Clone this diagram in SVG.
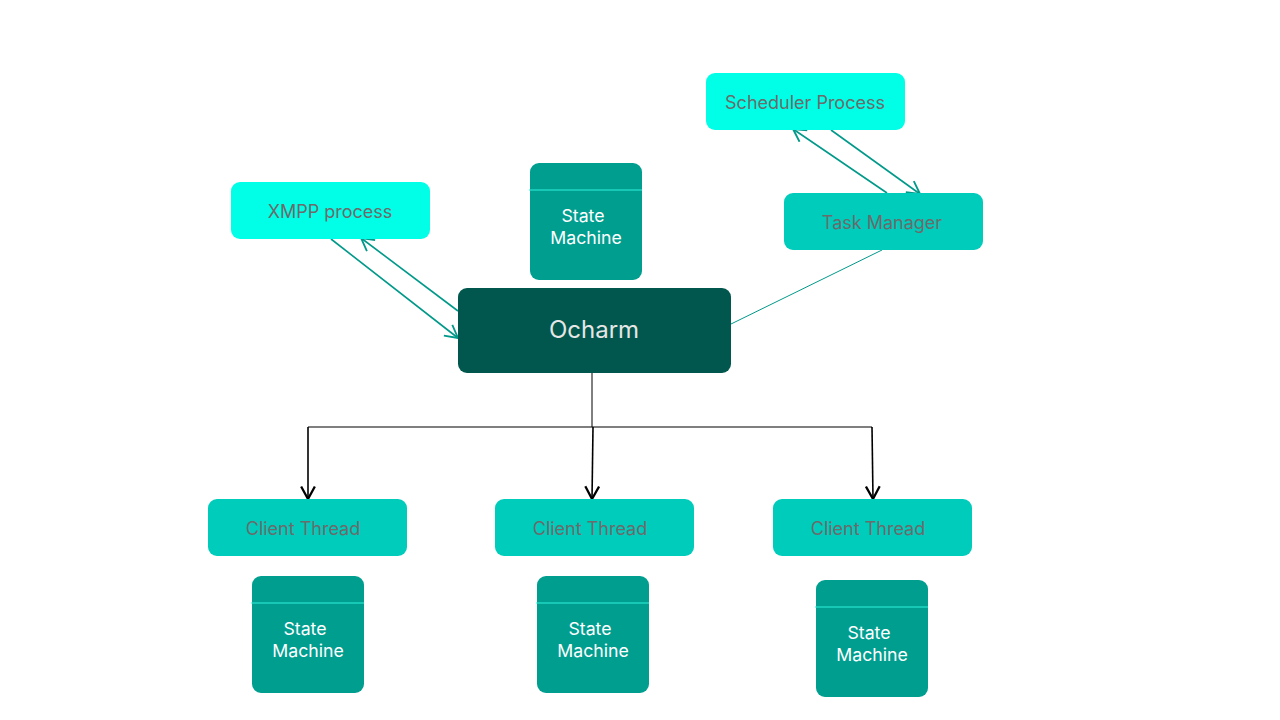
<svg xmlns="http://www.w3.org/2000/svg" width="1280" height="720" viewBox="0 0 1280 720">
<defs>
<style>
.proc{fill:#00FFE6}
.mid{fill:#00CCBB}
.sm{fill:#009E8F}
.smline{stroke:#2EF2DF;stroke-width:1}
.lbl{font-family:Inter,"Liberation Sans",sans-serif;font-size:18px;fill:#6B6B6B;text-anchor:middle}
.wlbl{font-family:Inter,"Liberation Sans",sans-serif;font-size:17.7px;fill:#FFFFFF;text-anchor:middle}
.teal{stroke:#00998A;stroke-width:1.6;fill:none}
.thin{stroke:#00998A;stroke-width:1;fill:none}
.blk{stroke:#000;stroke-width:1.6;fill:none}
</style>
<marker id="at" markerUnits="userSpaceOnUse" markerWidth="16" markerHeight="16" refX="12" refY="7" orient="auto" viewBox="0 0 14 14">
<path d="M1,1 L12,7 L1,13" fill="none" stroke="#00998A" stroke-width="1.6"/>
</marker>
<marker id="ab" markerUnits="userSpaceOnUse" markerWidth="16" markerHeight="16" refX="12" refY="7" orient="auto" viewBox="0 0 14 14">
<path d="M1,1 L12,7 L1,13" fill="none" stroke="#000" stroke-width="2"/>
</marker>
</defs>
<rect width="1280" height="720" fill="#FFFFFF"/>
<g id="connectors">
<line class="teal" x1="331" y1="239" x2="458" y2="338" marker-end="url(#at)"/>
<line class="teal" x1="458" y1="311" x2="361" y2="238" marker-end="url(#at)"/>
<line class="teal" x1="831" y1="130" x2="920" y2="194" marker-end="url(#at)"/>
<line class="teal" x1="887" y1="193" x2="793" y2="129" marker-end="url(#at)"/>
<line class="thin" x1="882" y1="250" x2="731" y2="324"/>
<line x1="592" y1="373" x2="592" y2="427" stroke="#000" stroke-width="1"/>
<line x1="308" y1="427" x2="872" y2="427" stroke="#000" stroke-width="1.2"/>
<line class="blk" x1="308" y1="427" x2="308" y2="499" marker-end="url(#ab)"/>
<line class="blk" x1="593" y1="427" x2="592" y2="499" marker-end="url(#ab)"/>
<line class="blk" x1="872" y1="427" x2="873" y2="499" marker-end="url(#ab)"/>
</g>
<g id="xmpp">
<rect class="proc" x="231" y="182" width="199" height="57" rx="9"/>
<text class="lbl" x="330" y="218">XMPP process</text>
</g>
<g id="scheduler">
<rect class="proc" x="706" y="73" width="199" height="57" rx="9"/>
<text class="lbl" x="805" y="109">Scheduler Process</text>
</g>
<g id="taskmanager">
<rect class="mid" x="784" y="193" width="199" height="57" rx="9"/>
<text class="lbl" x="882" y="229">Task Manager</text>
</g>
<g id="sm-top">
<rect class="sm" x="530" y="163" width="112" height="117" rx="9"/>
<line class="smline" x1="529" y1="190" x2="642" y2="190"/>
<text class="wlbl" x="583" y="222">State</text>
<text class="wlbl" x="586" y="244">Machine</text>
</g>
<g id="ocharm">
<rect x="458" y="288" width="273" height="85" rx="9" fill="#01574D"/>
<text x="594" y="338" font-family="Inter,'Liberation Sans',sans-serif" font-size="24" fill="#E6E6E6" text-anchor="middle">Ocharm</text>
</g>
<g id="client1">
<rect class="mid" x="208" y="499" width="199" height="57" rx="9"/>
<text class="lbl" x="303" y="535">Client Thread</text>
</g>
<g id="client2">
<rect class="mid" x="495" y="499" width="199" height="57" rx="9"/>
<text class="lbl" x="590" y="535">Client Thread</text>
</g>
<g id="client3">
<rect class="mid" x="773" y="499" width="199" height="57" rx="9"/>
<text class="lbl" x="868" y="535">Client Thread</text>
</g>
<g id="sm1">
<rect class="sm" x="252" y="576" width="112" height="117" rx="9"/>
<line class="smline" x1="251" y1="603" x2="364" y2="603"/>
<text class="wlbl" x="305" y="635">State</text>
<text class="wlbl" x="308" y="657">Machine</text>
</g>
<g id="sm2">
<rect class="sm" x="537" y="576" width="112" height="117" rx="9"/>
<line class="smline" x1="536" y1="603" x2="649" y2="603"/>
<text class="wlbl" x="590" y="635">State</text>
<text class="wlbl" x="593" y="657">Machine</text>
</g>
<g id="sm3">
<rect class="sm" x="816" y="580" width="112" height="117" rx="9"/>
<line class="smline" x1="815" y1="607" x2="928" y2="607"/>
<text class="wlbl" x="869" y="639">State</text>
<text class="wlbl" x="872" y="661">Machine</text>
</g>
</svg>
